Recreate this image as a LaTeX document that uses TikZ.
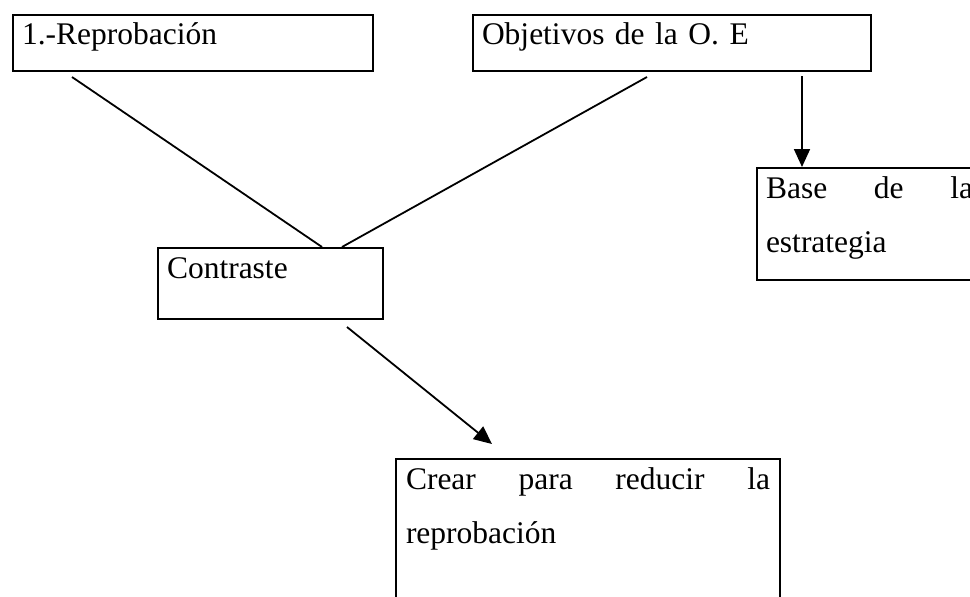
\documentclass[tikz,border=0pt]{standalone}
\usepackage{fontspec}
\setmainfont{Liberation Serif}
\usetikzlibrary{arrows.meta,positioning}

\begin{document}
\begin{tikzpicture}[x=1pt, y=-1pt,
    every node/.style={
        rectangle,
        draw,
        line width=2pt,
        anchor=north west,
        inner xsep=9pt,
        inner ysep=0pt,
        text height=30pt,
        font=\fontsize{31.5}{54}\selectfont
    },
    link/.style={line width=1.8pt},
    arrowlink/.style={line width=1.8pt, -{Triangle[length=18pt, width=16pt]}}
]
    \useasboundingbox (0,0) rectangle (970,597);
    \clip (0,0) rectangle (970,597);
    \node (reprobacion) [shift={(12,14)}, text width=342pt, text depth=26pt]
    {
        1.-Reprobación
    };
    \node (objetivos) [shift={(472,14)}, text width=380pt, text depth=26pt]
    {
        Objetivos de la O. E
    };
    \node (base) [shift={(756,167)}, text width=207pt, text depth=82pt]
    {
        Base\hfill de\hfill la\\
        estrategia
    };
    \node (contraste) [shift={(157,247)}, text width=207pt, text depth=41pt]
    {
        Contraste
    };
    \node (crear) [shift={(395,458)}, inner xsep=10pt, text width=364pt, text depth=140pt]
    {
        Crear\hfill para\hfill reducir\hfill la\\
        reprobación
    };
    \draw[link] ([shift={(60,5)}]reprobacion.south west) to ([shift={(165,0)}]contraste.north west);
    \draw[link] ([shift={(175,5)}]objetivos.south west) to ([shift={(185,0)}]contraste.north west);
    \draw[arrowlink] ([shift={(330,4)}]objetivos.south west) to ([shift={(46,0)}]base.north west);
    \draw[arrowlink] ([shift={(190,7)}]contraste.south west) to ([shift={(97,-14)}]crear.north west);
\end{tikzpicture}
\end{document}
